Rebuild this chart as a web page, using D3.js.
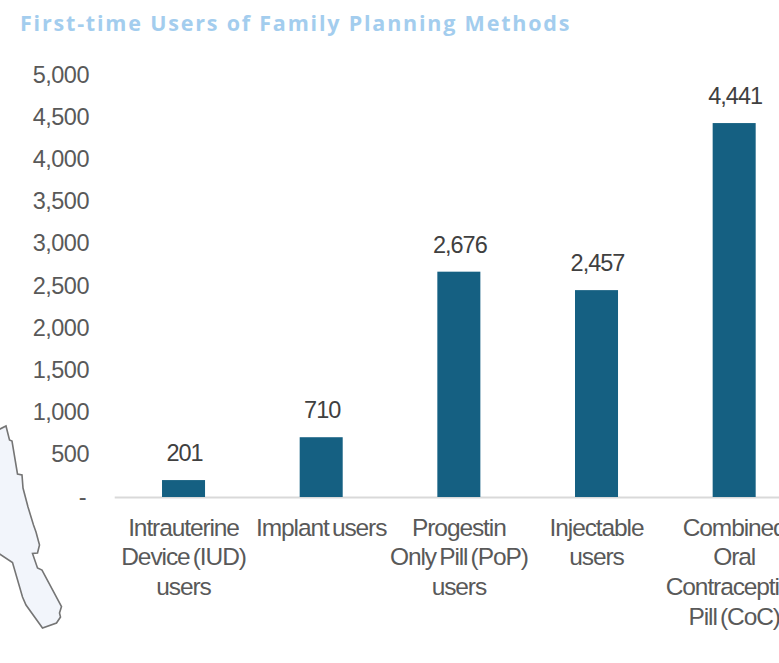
<!DOCTYPE html>
<html><head><meta charset="utf-8">
<script src="https://cdn.jsdelivr.net/npm/d3@7/dist/d3.min.js"></script>
<style>html,body{margin:0;padding:0;background:#fff;overflow:hidden}svg{display:block}text{font-family:"Liberation Sans",Arial,sans-serif}</style>
</head><body><svg id="c" width="779" height="663"></svg>
<script>
const titleText = "First-time Users of Family Planning Methods";
const categories = ["IUD","Implant","PoP","Injectable","CoC"];
const categoryLines = [
  ["Intrauterine","Device (IUD)","users"],
  ["Implant users"],
  ["Progestin","Only Pill (PoP)","users"],
  ["Injectable","users"],
  ["Combined","Oral","Contraceptive","Pill (CoC)"]
];
const values = [201,710,2676,2457,4441];
const yTicks = [0,500,1000,1500,2000,2500,3000,3500,4000,4500,5000];
const mapOutline = [[-2,430],[6,426],[9.5,440],[12,441],[17.5,474],[22,475],[23,488],[28,507],[33.5,525],[36,532],[39.5,545],[37.5,553],[32.5,553.5],[37.5,568],[42,570],[61.5,606.5],[59.5,613],[60.5,617],[56.5,623],[42.5,628],[26,605],[22.5,597],[12.5,562.5],[-2,553]];

const svg = d3.select("#c");
const x = d3.scaleBand().domain(categories).range([114.7,803]).paddingInner(0.6875).paddingOuter(0.34375);
const y = d3.scaleLinear().domain([0,5000]).range([497,76]);
const fmt = d3.format(",");

svg.append("path").attr("d", d3.line()(mapOutline)+"Z")
  .attr("fill","#f2f5fb").attr("stroke","#757575").attr("stroke-width",1.6);

svg.append("text").attr("x",20).attr("y",31).text(titleText)
  .attr("fill","#a3cdee").attr("font-size",21.5).attr("font-weight",700)
  .style("font-family","'Open Sans',sans-serif").style("letter-spacing","1.8px");

svg.append("line").attr("x1",114.7).attr("x2",779).attr("y1",y(0)+0.5).attr("y2",y(0)+0.5)
  .attr("stroke","#d9d9d9").attr("stroke-width",2);

const yAxis = d3.axisLeft(y).tickValues(yTicks).tickSize(0).tickPadding(0)
  .tickFormat(d => d === 0 ? "-" : fmt(d));
const gy = svg.append("g").attr("transform","translate(89,0)").call(yAxis);
gy.select(".domain").remove();
gy.selectAll("text").attr("fill","#595959").attr("font-size",23.5).attr("dy","0.3em")
  .attr("transform",d => `translate(${d===0?-3:0},${-(d/5000)})`)
  .style("font-family","'Liberation Sans',Arial,sans-serif").style("letter-spacing","-0.5px");

svg.selectAll("rect.bar").data(values).join("rect").attr("class","bar")
  .attr("x",(d,i)=>x(categories[i])).attr("width",x.bandwidth())
  .attr("y",d=>y(d)).attr("height",d=>y(0)-y(d)).attr("fill","#156082");

svg.selectAll("text.val").data(values).join("text").attr("class","val")
  .attr("x",(d,i)=>x(categories[i])+x.bandwidth()/2+1).attr("y",d=>y(d)-19)
  .attr("text-anchor","middle").attr("fill","#404040").attr("font-size",23.5)
  .style("letter-spacing","-1px").text(d=>fmt(d));

const cat = svg.selectAll("g.cat").data(categoryLines).join("g").attr("class","cat")
  .attr("transform",(d,i)=>`translate(${x(categories[i])+x.bandwidth()/2},0)`);
cat.selectAll("text").data(d=>d).join("text")
  .attr("x",0).attr("y",(d,i)=>535.5+i*29.7)
  .attr("text-anchor","middle").attr("fill","#595959").attr("font-size",24.5)
  .style("letter-spacing","-1.1px").style("word-spacing","-2.5px").text(d=>d);
</script></body></html>
